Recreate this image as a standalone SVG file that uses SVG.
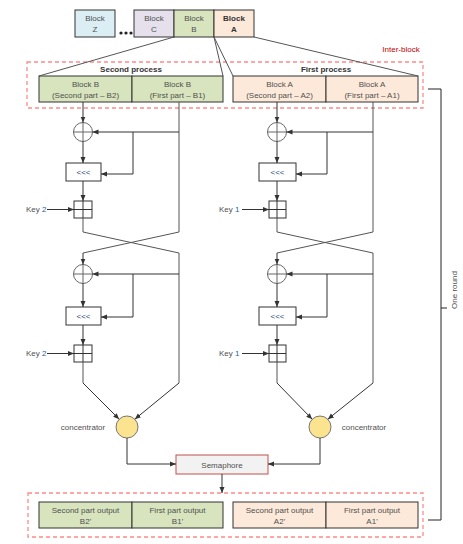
<svg xmlns="http://www.w3.org/2000/svg" width="463" height="544" viewBox="0 0 463 544">
<defs>
<marker id="ah" markerUnits="userSpaceOnUse" markerWidth="6" markerHeight="6" refX="6" refY="3" orient="auto">
<path d="M0,0.5 L6,3 L0,5.5 z" fill="#333"/>
</marker>
<style>
text{font-family:"Liberation Sans",Arial,sans-serif;font-size:8px;fill:#505050;text-anchor:middle}
.blk{stroke:#333;stroke-width:1}
.g{fill:#d7e4bd}
.o{fill:#fde9d9}
.ln{fill:none;stroke:#555;stroke-width:1}
.ar{fill:none;stroke:#333;stroke-width:1;marker-end:url(#ah)}
.dash{fill:none;stroke:#ff8a8a;stroke-width:1.3;stroke-dasharray:4 3}
.bold{font-weight:bold;fill:#333}
.xor{fill:none;stroke:#666;stroke-width:1}
.box{fill:#fff;stroke:#333;stroke-width:1}
.conc{fill:#fbe38f;stroke:#777;stroke-width:1}
.k{text-anchor:start}
</style>
</defs>
<rect width="463" height="544" fill="#fff"/>

<g id="blockZ"><rect x="75" y="10" width="40" height="27" fill="#dbeef4" class="blk"/><text x="95" y="21" fill="#5f3b6e">Block</text><text x="95" y="32">Z</text></g>
<g id="dots"><circle cx="121" cy="33" r="1.6" fill="#222"/><circle cx="126" cy="33" r="1.6" fill="#222"/><circle cx="131" cy="33" r="1.6" fill="#222"/></g>
<g id="blockC"><rect x="134" y="10" width="40" height="27" fill="#e5e0ec" class="blk"/><text x="154" y="21">Block</text><text x="154" y="32">C</text></g>
<g id="blockB"><rect x="174" y="10" width="40" height="27" fill="#d7e4bd" class="blk"/><text x="194" y="21">Block</text><text x="194" y="32">B</text></g>
<g id="blockA"><rect x="214" y="10" width="40" height="27" fill="#fde9d9" class="blk"/><text x="234" y="21" class="bold">Block</text><text x="234" y="32" class="bold">A</text></g>

<g id="interblock"><rect x="27" y="62" width="396" height="46" class="dash"/><text x="401" y="52" style="fill:#c00000">Inter-block</text></g>

<g id="secondProcess">
<text x="131" y="72" class="bold">Second process</text>
<rect x="39" y="76" width="93" height="26" class="g blk"/><rect x="132" y="76" width="91" height="26" class="g blk"/>
<text x="85.5" y="86.5">Block B</text><text x="85.5" y="97.5">(Second part – B2)</text>
<text x="177.5" y="86.5">Block B</text><text x="177.5" y="97.5">(First part – B1)</text>
</g>
<g id="firstProcess">
<text x="326" y="72" class="bold">First process</text>
<rect x="233" y="76" width="93" height="26" class="o blk"/><rect x="326" y="76" width="92" height="26" class="o blk"/>
<text x="279.5" y="86.5">Block A</text><text x="279.5" y="97.5">(Second part – A2)</text>
<text x="372" y="86.5">Block A</text><text x="372" y="97.5">(First part – A1)</text>
</g>

<g id="leftRound1">
<circle cx="83" cy="132" r="9.5" class="xor"/><path d="M73.5,132H92.5M83,122.5V141.5" class="xor"/>
<rect x="66" y="163" width="35" height="18" class="box"/><text x="83.5" y="175" style="fill:#1f497d">&lt;&lt;&lt;</text>
<rect x="74" y="201" width="18" height="17" class="box"/><path d="M74,209.5H92M83,201V218" stroke="#333" fill="none"/>
<text x="26" y="212" class="k">Key <tspan fill="#1f5fa0">2</tspan></text>
</g>
<g id="leftRound2">
<circle cx="83" cy="274" r="9.5" class="xor"/><path d="M73.5,274H92.5M83,264.5V283.5" class="xor"/>
<rect x="66" y="307" width="35" height="18" class="box"/><text x="83.5" y="319" style="fill:#1f497d">&lt;&lt;&lt;</text>
<rect x="74" y="345" width="18" height="17" class="box"/><path d="M74,353.5H92M83,345V362" stroke="#333" fill="none"/>
<text x="26" y="356" class="k">Key <tspan fill="#1f5fa0">2</tspan></text>
</g>
<g id="rightRound1">
<circle cx="277" cy="132" r="9.5" class="xor"/><path d="M267.5,132H286.5M277,122.5V141.5" class="xor"/>
<rect x="259" y="163" width="37" height="18" class="box"/><text x="277.5" y="175" style="fill:#1f497d">&lt;&lt;&lt;</text>
<rect x="269" y="201" width="17" height="17" class="box"/><path d="M269,209.5H286M277,201V218" stroke="#333" fill="none"/>
<text x="219" y="212" class="k">Key <tspan fill="#1f5fa0">1</tspan></text>
</g>
<g id="rightRound2">
<circle cx="277" cy="274" r="9.5" class="xor"/><path d="M267.5,274H286.5M277,264.5V283.5" class="xor"/>
<rect x="259" y="307" width="37" height="18" class="box"/><text x="277.5" y="319" style="fill:#1f497d">&lt;&lt;&lt;</text>
<rect x="269" y="345" width="17" height="17" class="box"/><path d="M269,353.5H286M277,345V362" stroke="#333" fill="none"/>
<text x="219" y="356" class="k">Key <tspan fill="#1f5fa0">1</tspan></text>
</g>

<g id="concLeft"><circle cx="127" cy="427" r="11" class="conc"/><text x="83" y="430">concentrator</text></g>
<g id="concRight"><circle cx="320" cy="427" r="11" class="conc"/><text x="364" y="430">concentrator</text></g>
<g id="semaphore"><rect x="176" y="455" width="92" height="19" fill="#f2f2f2" stroke="#c0504d" stroke-width="1"/><text x="222" y="467.5">Semaphore</text></g>

<g id="outputs">
<rect x="28" y="493" width="395" height="44" class="dash"/>
<rect x="39" y="502" width="93" height="26" class="g blk"/><rect x="132" y="502" width="91" height="26" class="g blk"/>
<rect x="233" y="502" width="93" height="26" class="o blk"/><rect x="326" y="502" width="92" height="26" class="o blk"/>
<text x="85.5" y="512.5">Second part output</text><text x="85.5" y="523.5">B2'</text>
<text x="177.5" y="512.5">First part output</text><text x="177.5" y="523.5">B1'</text>
<text x="279.5" y="512.5">Second part output</text><text x="279.5" y="523.5">A2'</text>
<text x="372" y="512.5">First part output</text><text x="372" y="523.5">A1'</text>
</g>

<g id="oneRound">
<path d="M428,89H441V520H428M441,308H447" fill="none" stroke="#222" stroke-width="1"/>
<text transform="translate(457,290) rotate(-90)">One round</text>
</g>

<g id="connectors">
<path d="M174,37L39,76M214,37L223,76M214,37L233,76M254,37L418,76" class="ln" stroke="#444"/>
<path d="M83,102V122.5" class="ar"/>
<path d="M179,102V232" class="ln"/>
<path d="M179,132H92.5" class="ar"/>
<path d="M133,132V174H101" class="ar"/>
<path d="M83,141.5V163" class="ar"/>
<path d="M83,181V201" class="ar"/>
<path d="M47,209.5H74" class="ar"/>
<path d="M83,218V232L179,253M179,232L83,253" class="ln"/>
<path d="M83,253V264.5" class="ar"/>
<path d="M179,253V383" class="ln"/>
<path d="M179,274H92.5" class="ar"/>
<path d="M133,274V317H101" class="ar"/>
<path d="M83,283.5V307" class="ar"/>
<path d="M83,325V345" class="ar"/>
<path d="M47,353.5H74" class="ar"/>
<path d="M83,362V383" class="ln"/>
<path d="M83,383L119.2,419.2" class="ar"/>
<path d="M179,383L134.8,419.2" class="ar"/>
<path d="M277,102V122.5" class="ar"/>
<path d="M373,102V232" class="ln"/>
<path d="M373,132H286.5" class="ar"/>
<path d="M327,132V174H296" class="ar"/>
<path d="M277,141.5V163" class="ar"/>
<path d="M277,181V201" class="ar"/>
<path d="M242,209.5H269" class="ar"/>
<path d="M277,218V232L373,253M373,232L277,253" class="ln"/>
<path d="M277,253V264.5" class="ar"/>
<path d="M373,253V383" class="ln"/>
<path d="M373,274H286.5" class="ar"/>
<path d="M327,274V317H296" class="ar"/>
<path d="M277,283.5V307" class="ar"/>
<path d="M277,325V345" class="ar"/>
<path d="M242,353.5H269" class="ar"/>
<path d="M277,362V383" class="ln"/>
<path d="M277,383L312.2,419.2" class="ar"/>
<path d="M373,383L327.8,419.2" class="ar"/>
<path d="M127,438V464H176" class="ar"/>
<path d="M320,438V464H268" class="ar"/>
<path d="M222,474V493" class="ar"/>
</g>
</svg>
